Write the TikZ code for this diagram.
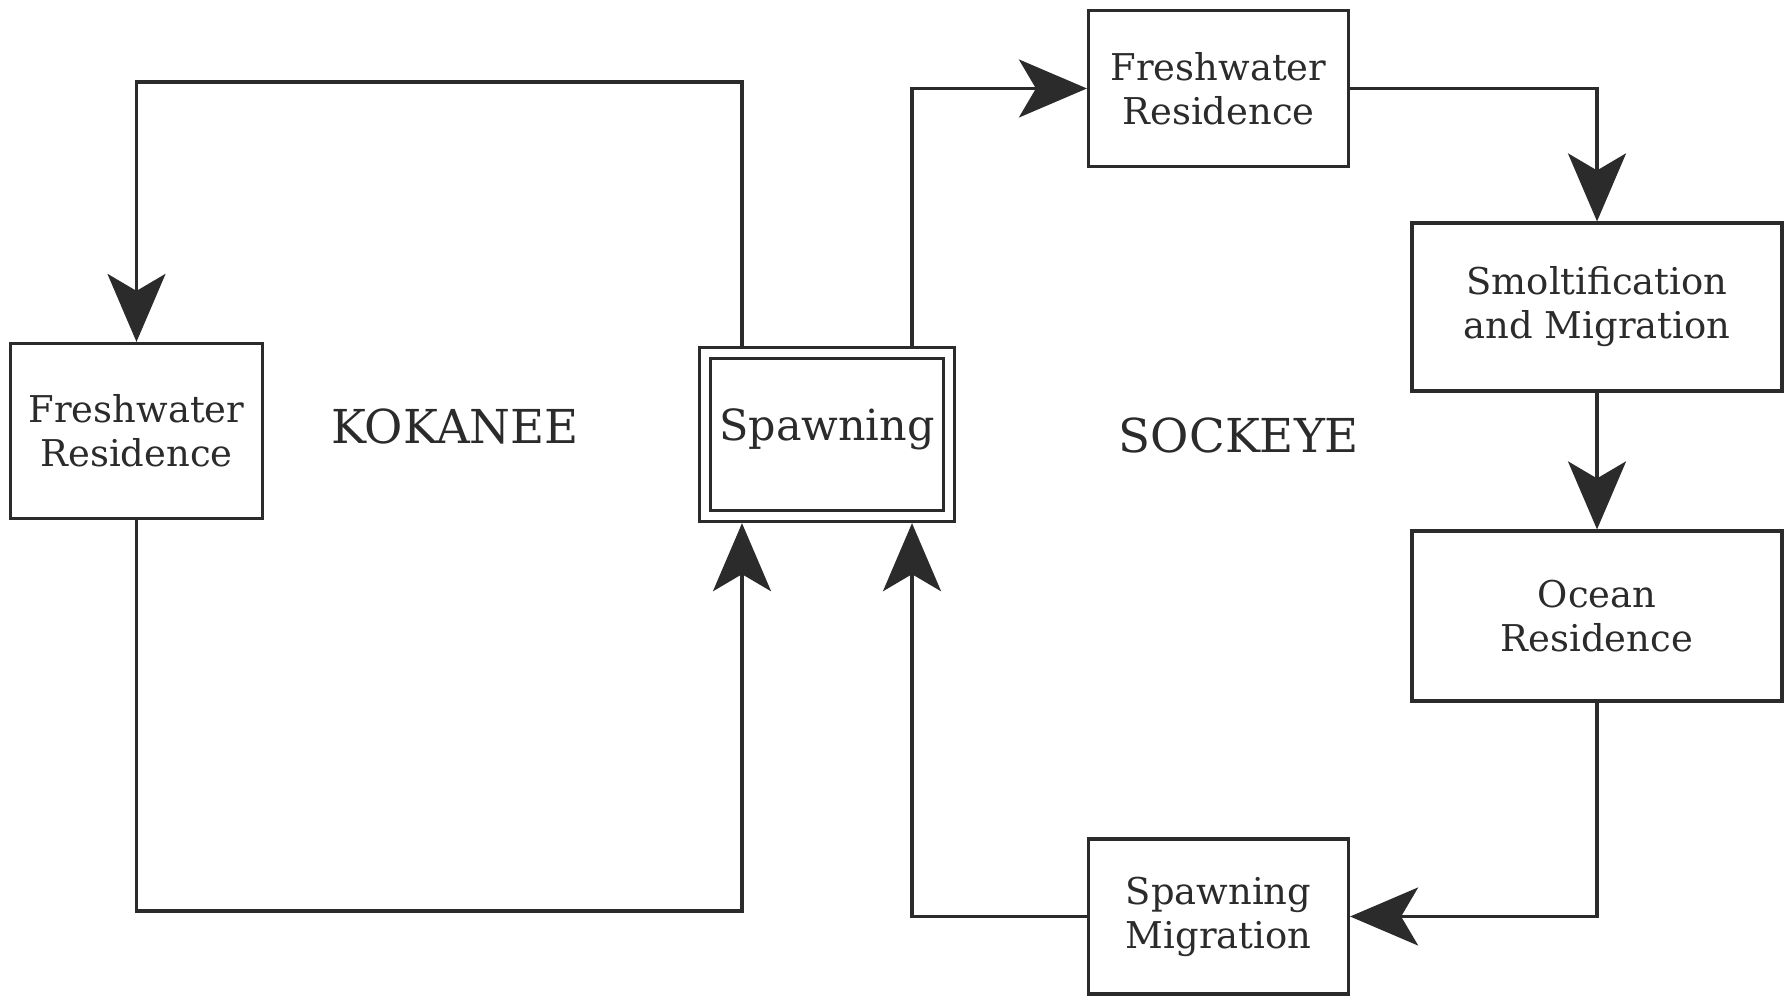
\documentclass[tikz,border=0pt]{standalone}
\usepackage{fontspec}
\setmainfont{DejaVu Serif}
\usetikzlibrary{arrows.meta}
\definecolor{ink}{HTML}{2B2B2B}

\begin{document}
\begin{tikzpicture}
    \tikzset{
        stagebox/.style={draw=ink, line width=0.9pt, inner sep=0pt, align=center, text=ink,
            font=\fontsize{10.5}{12.5}\selectfont},
        flow/.style={draw=ink, line width=0.9pt,
            -{Stealth[length=0.68cm, width=0.58cm, inset=0.17cm]}},
        formlabel/.style={text=ink, inner sep=0pt, font=\fontsize{13.3}{15}\selectfont}
    }
    \useasboundingbox (0,0) rectangle (17.85,9.99);

    % Stades du cycle
    \node[stagebox, minimum width=2.52cm, minimum height=1.75cm] (frL) at (1.365,5.68) {Freshwater\\Residence};
    \node[stagebox, minimum width=2.44cm, minimum height=1.63cm, double, double distance=0.08cm,
          outer sep=0.072cm, text depth=0.2cm, font=\fontsize{12.2}{14}\selectfont] (spawn) at (8.27,5.645) {Spawning};
    \node[stagebox, minimum width=2.60cm, minimum height=1.56cm] (frT) at (12.185,9.105) {Freshwater\\Residence};
    \node[stagebox, minimum width=3.70cm, minimum height=1.68cm] (smolt) at (15.97,6.92) {Smoltification\\and Migration};
    \node[stagebox, minimum width=3.70cm, minimum height=1.70cm] (ocean) at (15.97,3.83) {Ocean\\Residence};
    \node[stagebox, minimum width=2.60cm, minimum height=1.55cm] (migr) at (12.185,0.825) {Spawning\\Migration};

    % Noms des formes
    \node[formlabel] (kokanee) at (4.55,5.725) {KOKANEE};
    \node[formlabel] (sockeye) at (12.39,5.635) {SOCKEYE};

    % Coins des boucles
    \coordinate (kTR) at (7.42,9.17);
    \coordinate (kTL) at (1.365,9.17);
    \coordinate (kBL) at (1.365,0.88);
    \coordinate (kBR) at (7.42,0.88);
    \coordinate (sx) at (9.12,5);

    % Boucle kokanee
    \draw[flow] (spawn.north -| kTR) -- (kTR) -- (kTL) -- (frL.north);
    \draw[flow] (frL.south) -- (kBL) -- (kBR) -- (spawn.south -| kBR);

    % Boucle sockeye
    \draw[flow] (spawn.north -| sx) |- (frT.west);
    \draw[flow] (frT.east) -| (smolt.north);
    \draw[flow] (smolt.south) -- (ocean.north);
    \draw[flow] (ocean.south) |- (migr.east);
    \draw[flow] (migr.west) -| (spawn.south -| sx);

\end{tikzpicture}
\end{document}
